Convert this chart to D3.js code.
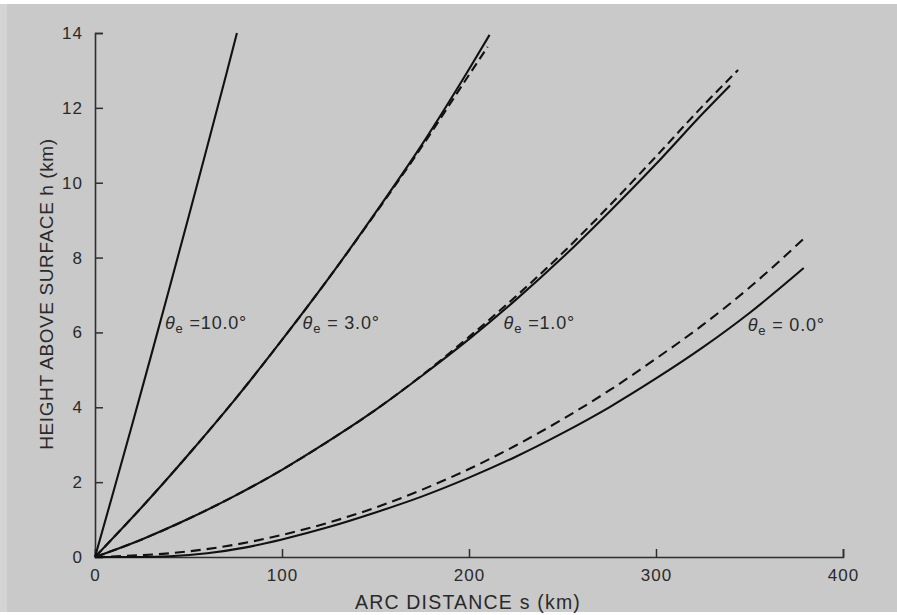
<!DOCTYPE html>
<html><head><meta charset="utf-8">
<script src="https://cdn.jsdelivr.net/npm/d3@7"></script>
<style>
html,body{margin:0;padding:0;background:#ffffff;}
svg{display:block;}
text{font-family:"Liberation Sans","DejaVu Sans",sans-serif;fill:#2a2a2a;}
</style></head>
<body>
<svg id="chart" width="897" height="615"></svg>
<script>
// ---- data (arc distance s in km, height h in km) ----
const xTicks = [0, 100, 200, 300, 400];
const yTicks = [0, 2, 4, 6, 8, 10, 12, 14];

const s10 = [0, 10, 20, 30, 40, 50, 60, 70, 75.9];
const h10 = [0, 1.77, 3.56, 5.38, 7.22, 9.08, 10.96, 12.86, 14.0];

const s3solid = [0, 25, 50, 75, 100, 125, 150, 175, 200, 211];
const h3solid = [0, 1.33, 2.74, 4.22, 5.8, 7.45, 9.2, 11.03, 13.03, 13.95];
const s3dash = [0, 25, 50, 75, 100, 125, 150, 175, 200, 210];
const h3dash = [0, 1.33, 2.74, 4.22, 5.8, 7.45, 9.18, 10.98, 12.88, 13.63];

const s1solid = [0, 25, 50, 75, 100, 125, 150, 175, 200, 225, 250, 275, 300, 325, 339.6];
const h1solid = [0, 0.47, 1.02, 1.64, 2.33, 3.1, 3.93, 4.85, 5.82, 6.87, 8.0, 9.22, 10.5, 11.85, 12.6];
const s1dash = [0, 25, 50, 75, 100, 125, 150, 175, 200, 225, 250, 275, 300, 325, 343.9];
const h1dash = [0, 0.47, 1.02, 1.64, 2.33, 3.1, 3.93, 4.86, 5.88, 6.96, 8.12, 9.38, 10.7, 12.05, 13.01];

const s0solid = [0, 25, 40, 60, 80, 100, 125, 150, 175, 200, 225, 250, 275, 300, 325, 350, 379];
const h0solid = [0, 0, 0.02, 0.1, 0.25, 0.47, 0.8, 1.19, 1.62, 2.12, 2.68, 3.31, 4.0, 4.77, 5.6, 6.52, 7.72];
const s0dash = [0, 50, 75, 100, 125, 150, 175, 200, 225, 250, 275, 300, 325, 350, 380];
const h0dash = [0, 0.15, 0.33, 0.59, 0.92, 1.32, 1.8, 2.35, 2.98, 3.68, 4.45, 5.3, 6.2, 7.2, 8.55];

const labelAngles = ["=10.0°", "= 3.0°", "=1.0°", "= 0.0°"];
const labelS = [37.4, 111, 218.5, 349];
const labelH = [6.1, 6.1, 6.1, 6.05];

// ---- drawing ----
const svg = d3.select("#chart");
// paper
svg.append("rect").attr("x", 0).attr("y", 4).attr("width", 897).attr("height", 608).attr("fill", "#c9c9c9");
svg.append("rect").attr("x", 0).attr("y", 4).attr("width", 7).attr("height", 608).attr("fill", "#d4d4d4");

const x = d3.scaleLinear().domain([0, 400]).range([95, 843]);
const y = d3.scaleLinear().domain([0, 14]).range([557, 33]);

const axisColor = "#2e2e2e";
// x axis
const gx = svg.append("g").attr("transform", `translate(0,${y(0)})`)
  .call(d3.axisBottom(x).tickValues(xTicks).tickSize(-8).tickPadding(12).tickFormat(d3.format("d")));
// y axis
const gy = svg.append("g").attr("transform", `translate(${x(0)},0)`)
  .call(d3.axisLeft(y).tickValues(yTicks).tickSize(-8).tickPadding(12).tickFormat(d3.format("d")));
[gx, gy].forEach(g => {
  g.select(".domain").attr("stroke", axisColor).attr("stroke-width", 1.6);
  g.selectAll(".tick line").attr("stroke", axisColor).attr("stroke-width", 1.5);
  g.selectAll(".tick text").attr("font-size", 17).attr("letter-spacing", 1).attr("fill", "#2a2a2a")
    .style("font-family", "Liberation Sans, DejaVu Sans, sans-serif");
});
gx.selectAll(".tick text").attr("dy", "0.71em");

// axis titles
svg.append("text").attr("x", 468).attr("y", 609).attr("text-anchor", "middle")
  .attr("font-size", 19.5).attr("letter-spacing", 1.2).text("ARC DISTANCE s (km)");
svg.append("text").attr("transform", "translate(53,294) rotate(-90)").attr("text-anchor", "middle")
  .attr("font-size", 19).attr("letter-spacing", 0.6).text("HEIGHT ABOVE SURFACE h (km)");

// curves
const line = d3.line().x(d => x(d[0])).y(d => y(d[1])).curve(d3.curveMonotoneX);
const zip = (a, b) => a.map((v, i) => [v, b[i]]);
const curves = [
  {s: s10, h: h10, dash: null},
  {s: s3dash, h: h3dash, dash: "9,5"},
  {s: s3solid, h: h3solid, dash: null},
  {s: s1dash, h: h1dash, dash: "9,5"},
  {s: s1solid, h: h1solid, dash: null},
  {s: s0dash, h: h0dash, dash: "10,6"},
  {s: s0solid, h: h0solid, dash: null}
];
curves.forEach(c => {
  svg.append("path").attr("d", line(zip(c.s, c.h)))
    .attr("fill", "none").attr("stroke", "#111").attr("stroke-width", 2.1)
    .attr("stroke-dasharray", c.dash);
});

// labels
labelAngles.forEach((a, i) => {
  const t = svg.append("text").attr("x", x(labelS[i])).attr("y", y(labelH[i]))
    .attr("font-size", 18).attr("letter-spacing", 0.8);
  t.append("tspan").attr("font-style", "italic").text("θ");
  t.append("tspan").attr("font-size", 13).attr("dy", 4).text("e");
  t.append("tspan").attr("dy", -4).attr("dx", 6).text(a);
});
</script>
</body></html>
